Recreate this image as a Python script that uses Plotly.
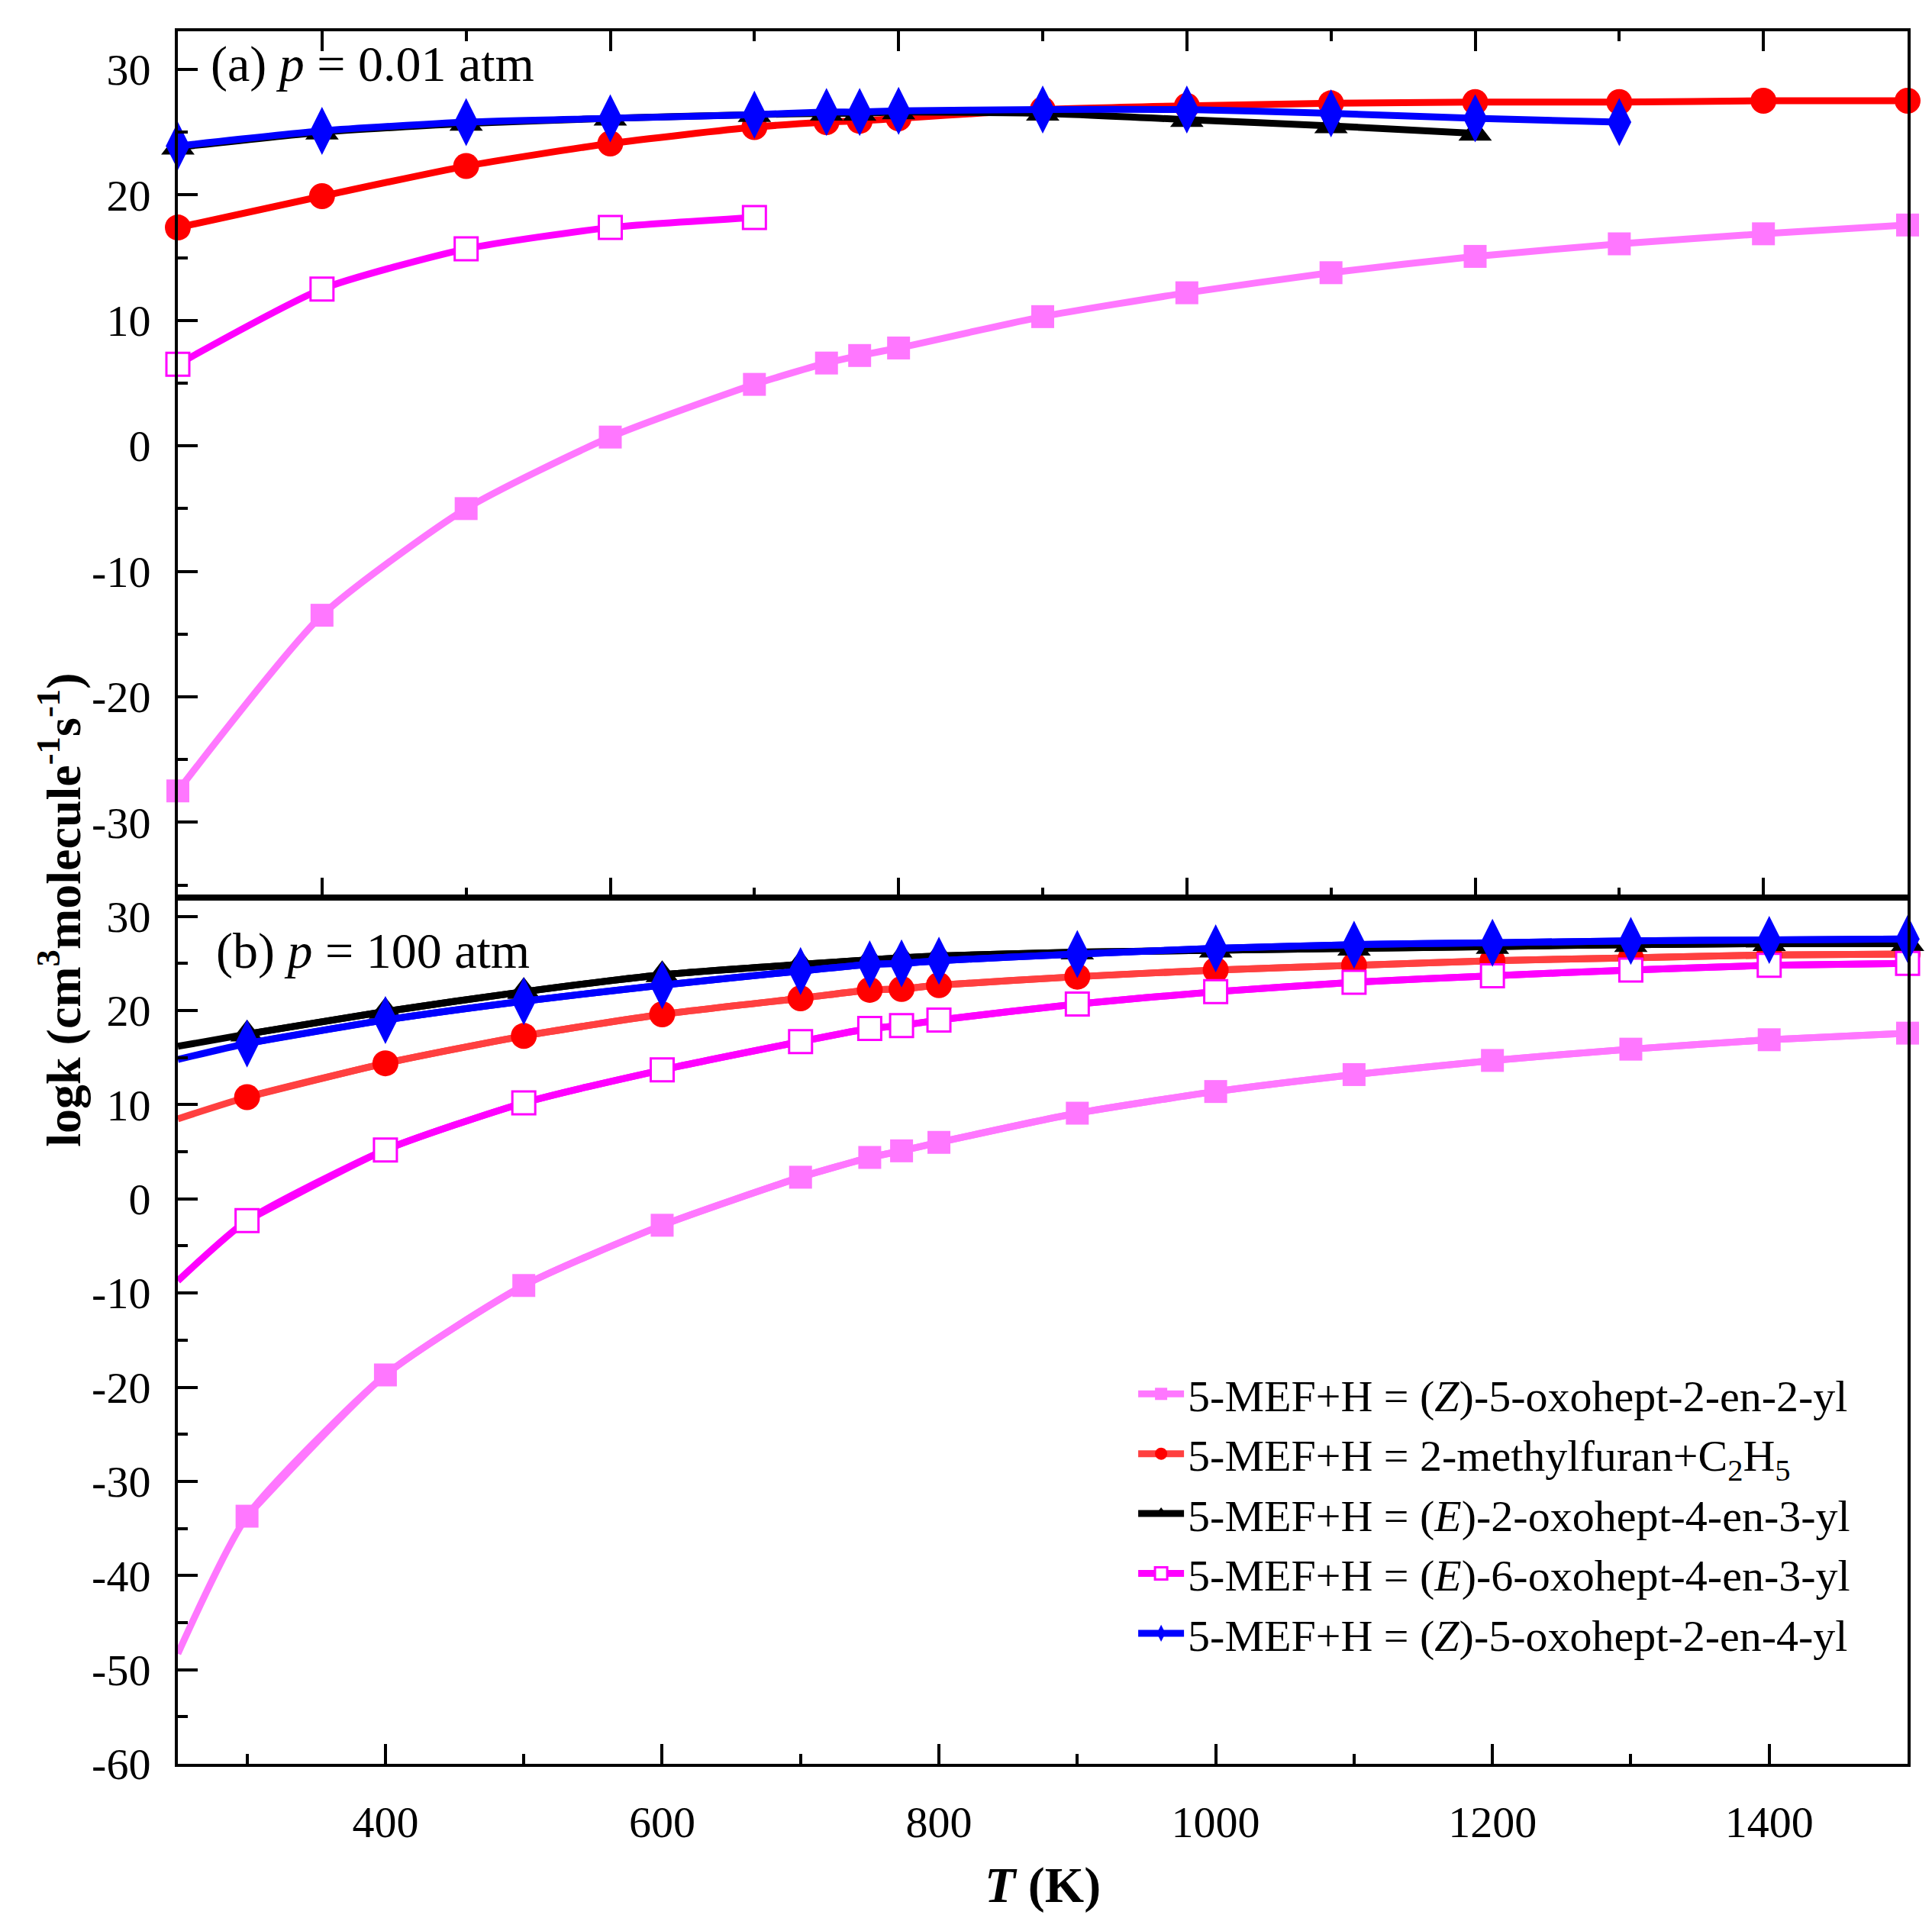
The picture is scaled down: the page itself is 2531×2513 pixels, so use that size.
import plotly.graph_objects as go
from plotly.subplots import make_subplots

# temperatures (K)
T_A = [300, 400, 500, 600, 700, 750, 773, 800, 900, 1000, 1100, 1200, 1300, 1400, 1500]
T_B = [250, 300, 400, 500, 600, 700, 750, 773, 800, 900, 1000, 1100, 1200, 1300, 1400, 1500]

NAMES = [
    "5-MEF+H = (<i>Z</i>)-5-oxohept-2-en-2-yl",
    "5-MEF+H = 2-methylfuran+C<sub>2</sub>H<sub>5</sub>",
    "5-MEF+H = (<i>E</i>)-2-oxohept-4-en-3-yl",
    "5-MEF+H = (<i>E</i>)-6-oxohept-4-en-3-yl",
    "5-MEF+H = (<i>Z</i>)-5-oxohept-2-en-4-yl",
]

# (a) p = 0.01 atm, logk
a_z22 = [-27.5, -13.5, -5.0, 0.7, 4.9, 6.6, 7.2, 7.8, 10.3, 12.2, 13.8, 15.1, 16.1, 16.9, 17.6]
a_mf = [17.4, 19.9, 22.3, 24.1, 25.4, 25.8, 25.9, 26.1, 26.8, 27.1, 27.3, 27.4, 27.4, 27.5, 27.5]
a_e243 = [23.8, 25.0, 25.7, 26.1, 26.4, 26.5, 26.5, 26.6, 26.5, 26.0, 25.5, 24.9]
a_e643 = [6.5, 12.5, 15.7, 17.4, 18.2]
a_z24 = [23.9, 25.1, 25.8, 26.1, 26.4, 26.6, 26.6, 26.7, 26.8, 26.8, 26.5, 26.1, 25.8]

# (b) p = 100 atm, logk (first value = curve at 250 K, no symbol)
b_z22 = [-48.3, -33.7, -18.7, -9.2, -2.8, 2.3, 4.4, 5.1, 6.0, 9.1, 11.4, 13.2, 14.7, 15.9, 16.9, 17.6]
b_mf = [8.5, 10.8, 14.4, 17.3, 19.6, 21.3, 22.2, 22.3, 22.7, 23.6, 24.3, 24.8, 25.3, 25.6, 25.9, 26.0]
b_e243 = [16.2, 17.5, 19.9, 22.0, 23.8, 24.9, 25.4, 25.6, 25.8, 26.2, 26.4, 26.6, 26.8, 27.0, 27.1, 27.1]
b_e643 = [-8.7, -2.3, 5.2, 10.2, 13.7, 16.7, 18.1, 18.4, 19.0, 20.7, 22.0, 23.0, 23.7, 24.3, 24.8, 25.0]
b_z24 = [14.8, 16.5, 19.0, 21.0, 22.7, 24.2, 24.9, 25.0, 25.3, 26.0, 26.6, 27.0, 27.2, 27.4, 27.5, 27.6]

YT_A = list(range(-30, 31, 10))
YT_B = list(range(-60, 31, 10))

FONT = "Liberation Serif"
LW = 9

styles = [
    dict(line="#FF77FF", marker=dict(symbol="square", size=30, color="#FF77FF")),
    dict(line="#FF4040", marker=dict(symbol="circle", size=34, color="#FF0000")),
    dict(line="#000000", marker=dict(symbol="triangle-up", size=38, color="#000000")),
    dict(line="#FF00FF", marker=dict(symbol="square", size=30, color="white",
                                     line=dict(color="#FF00FF", width=3))),
    dict(line="#0000FF", marker=dict(symbol="diamond-tall", size=45, color="#0000FF")),
]

fig = make_subplots(rows=2, cols=1, vertical_spacing=0)

top = [a_z22, a_mf, a_e243, a_e643, a_z24]
bot = [b_z22, b_mf, b_e243, b_e643, b_z24]

for i, ys in enumerate(top):
    st = styles[i]
    lc = "#FF0000" if i == 1 else st["line"]
    fig.add_trace(go.Scatter(
        x=T_A[:len(ys)], y=ys, mode="lines+markers",
        line=dict(color=lc, width=LW, shape="spline", smoothing=0.6),
        marker=st["marker"], showlegend=False, cliponaxis=False,
    ), row=1, col=1)

for i, ys in enumerate(bot):
    st = styles[i]
    # full curve from 250 K
    fig.add_trace(go.Scatter(
        x=T_B, y=ys, mode="lines",
        line=dict(color=st["line"], width=LW, shape="spline", smoothing=0.6),
        showlegend=False, hoverinfo="skip",
    ), row=2, col=1)
    fig.add_trace(go.Scatter(
        x=T_B[1:], y=ys[1:], mode="lines+markers", name=NAMES[i],
        line=dict(color=st["line"], width=LW, shape="spline", smoothing=0.6),
        marker=st["marker"], cliponaxis=False,
    ), row=2, col=1)

axis_common = dict(
    showline=True, linecolor="black", linewidth=4,
    ticks="inside", ticklen=26, tickwidth=4, tickcolor="black",
    showgrid=False, zeroline=False,
    tickfont=dict(family=FONT, size=58, color="black"),
)
minor = dict(ticks="inside", ticklen=13, tickwidth=4, tickcolor="black", showgrid=False)

fig.update_xaxes(range=[300, 1500], dtick=200, tick0=0, showticklabels=False,
                 mirror="ticks", minor=dict(dtick=100, **minor), **axis_common, row=1, col=1)
fig.update_xaxes(range=[250, 1500], dtick=200, tick0=0, mirror=True,
                 ticklabelstandoff=22, minor=dict(dtick=100, **minor), **axis_common, row=2, col=1)
fig.update_yaxes(range=[-36, 33.04], tickvals=YT_A, ticktext=[str(v) for v in YT_A],
                 mirror=True, ticklabelstandoff=20, minor=dict(dtick=5, **minor),
                 **axis_common, row=1, col=1)
fig.update_yaxes(range=[-60, 32], tickvals=YT_B, ticktext=[str(v) for v in YT_B],
                 mirror=True, ticklabelstandoff=20, minor=dict(dtick=5, **minor),
                 **axis_common, row=2, col=1)

fig.add_annotation(text="(a) <i>p</i> = 0.01 atm", xref="x domain", yref="y domain",
                   x=0.018, y=0.962, xanchor="left", yanchor="middle", showarrow=False,
                   font=dict(family=FONT, size=66, color="black"))
fig.add_annotation(text="(b) <i>p</i> = 100 atm", xref="x2 domain", yref="y2 domain",
                   x=0.021, y=0.938, xanchor="left", yanchor="middle", showarrow=False,
                   font=dict(family=FONT, size=66, color="black"))
fig.add_annotation(text="<b>logk (cm<sup>3</sup>molecule<sup>-1</sup>s<sup>-1</sup>)</b>",
                   xref="paper", yref="paper", x=-0.068, y=0.493, textangle=-90,
                   xanchor="center", yanchor="middle", showarrow=False,
                   font=dict(family=FONT, size=64, color="black"))
fig.add_annotation(text="<b><i>T</i> (K)</b>", xref="paper", yref="paper",
                   x=0.5, y=-0.07, xanchor="center", yanchor="middle", showarrow=False,
                   font=dict(family=FONT, size=66, color="black"))

fig.update_layout(
    width=2531, height=2513,
    margin=dict(l=225, r=40, t=33, b=210),
    paper_bgcolor="white", plot_bgcolor="white",
    legend=dict(x=0.553, y=0.233, xanchor="left", yanchor="top",
                bgcolor="rgba(0,0,0,0)", itemwidth=60, tracegroupgap=0,
                font=dict(family=FONT, size=58, color="black")),
)

fig.write_html("out.html")
